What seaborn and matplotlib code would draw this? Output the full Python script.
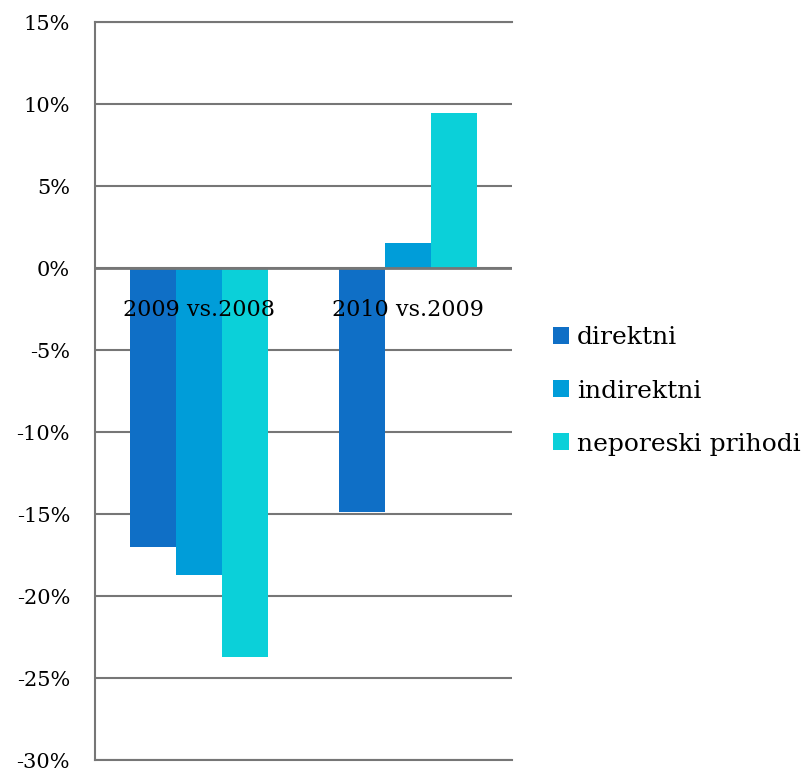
import pandas as pd
import seaborn as sns
import matplotlib.pyplot as plt

categories = ["2009 vs.2008", "2010 vs.2009"]
series = ["direktni", "indirektni", "neporeski prihodi"]
direktni = [-17.0, -14.9]
indirektni = [-18.7, 1.5]
neporeski = [-23.7, 9.45]
colors = ["#0F6FC6", "#009DD9", "#0BD0D9"]
yticks = [15, 10, 5, 0, -5, -10, -15, -20, -25, -30]

df = pd.DataFrame({
    "period": categories * 3,
    "serija": [series[0]] * 2 + [series[1]] * 2 + [series[2]] * 2,
    "value": direktni + indirektni + neporeski,
})

sns.set_style("white")
plt.rcParams["font.family"] = ["DejaVu Serif"]
plt.rcParams["text.color"] = "black"
plt.rcParams["ytick.color"] = "black"

fig = plt.figure(figsize=(8.08, 7.71), dpi=100)
ax = fig.add_axes([95 / 808, 1 - 760 / 771, (512 - 95) / 808, (760 - 22) / 771])

sns.barplot(
    data=df, x="period", y="value", hue="serija",
    palette=colors, saturation=1, width=0.66, gap=0,
    linewidth=0, ax=ax, zorder=2,
)

gray = "#767676"
ax.set_ylim(-30, 15)
ax.set_yticks(yticks)
ax.set_yticklabels([f"{v}%" for v in yticks], fontsize=15, color="black")
ax.tick_params(axis="y", length=0, pad=18)
ax.yaxis.grid(True, color=gray, linewidth=1.5, zorder=0)
ax.set_axisbelow(True)
ax.axhline(0, color=gray, linewidth=2, zorder=5)

ax.set_xticks([])
ax.set_xlabel("")
ax.set_ylabel("")
for s in ["left", "top", "bottom"]:
    ax.spines[s].set_color(gray)
    ax.spines[s].set_linewidth(1.5)
ax.spines["right"].set_visible(False)

for i, c in enumerate(categories):
    ax.annotate(c, (i, 0), xytext=(0, -30), textcoords="offset points",
                ha="center", va="center", fontsize=16, color="black", zorder=6)

handles, labels = ax.get_legend_handles_labels()
leg = ax.legend(handles, labels, loc="center left", bbox_to_anchor=(553 / 808, 1 - 391 / 771),
                bbox_transform=fig.transFigure, frameon=False, fontsize=18,
                handlelength=0.65, handleheight=0.65, handletextpad=0.3,
                labelspacing=1.2, borderpad=0, borderaxespad=0)
for t in leg.get_texts():
    t.set_color("black")

fig.savefig("out.png", dpi=100)
